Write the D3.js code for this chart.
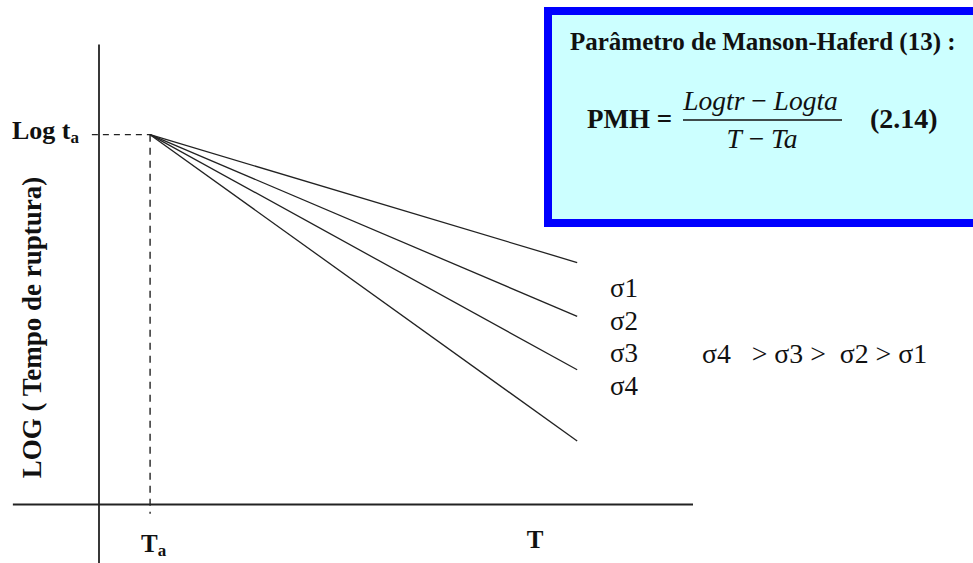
<!DOCTYPE html>
<html>
<head>
<meta charset="utf-8">
<script src="https://cdn.jsdelivr.net/npm/d3@7"></script>
<style>
  html, body { margin: 0; padding: 0; background: #fff; }
  svg text { font-family: "Liberation Serif", "DejaVu Serif", serif; }
</style>
</head>
<body>
<svg id="chart" width="973" height="563"></svg>
<script>
// Manson-Haferd construction: iso-stress lines converging at (Ta, log ta)
const series = ["σ1", "σ2", "σ3", "σ4"];
const Ta = 0.86;          // convergence temperature
const logTa = 8.04;       // log of rupture time at the convergence point
const Tend = 8.05;        // temperature where the drawn lines stop
const logTrEnd = [5.26, 4.09, 2.93, 1.38];   // log(tr) at Tend for σ1..σ4
const xLabels = ["Ta", "T"];
const xLabelPos = [0.92, 7.34];

const FONT = "'Liberation Serif', 'DejaVu Serif', serif";
const svg = d3.select("#chart");
const x = d3.scaleLinear().domain([0, 10]).range([99, 693]);
const y = d3.scaleLinear().domain([0, 10]).range([504.5, 44.5]);

const ink = "#222";

// axes: crossing lines
svg.append("line")
  .attr("x1", x(0)).attr("x2", x(0))
  .attr("y1", y(10)).attr("y2", y(-1.3))
  .attr("stroke", ink).attr("stroke-width", 1.8);
svg.append("line")
  .attr("x1", x(-1.45)).attr("x2", x(10))
  .attr("y1", y(0)).attr("y2", y(0))
  .attr("stroke", ink).attr("stroke-width", 1.8);

// dashed guides to the convergence point
svg.append("line")
  .attr("x1", x(-0.12)).attr("x2", x(Ta))
  .attr("y1", y(logTa)).attr("y2", y(logTa))
  .attr("stroke", ink).attr("stroke-width", 1.4)
  .attr("stroke-dasharray", "6,5");
svg.append("line")
  .attr("x1", x(Ta)).attr("x2", x(Ta))
  .attr("y1", y(logTa)).attr("y2", y(-0.2))
  .attr("stroke", ink).attr("stroke-width", 1.4)
  .attr("stroke-dasharray", "7,6");

// iso-stress lines
svg.selectAll("line.iso")
  .data(logTrEnd)
  .join("line")
  .attr("class", "iso")
  .attr("x1", x(Ta)).attr("y1", y(logTa))
  .attr("x2", x(Tend)).attr("y2", d => y(d))
  .attr("stroke", ink).attr("stroke-width", 1.3);

// series labels
svg.selectAll("text.sig")
  .data(series)
  .join("text")
  .attr("class", "sig")
  .attr("x", 610)
  .attr("y", (d, i) => 297 + i * 32.7)
  .attr("font-family", FONT)
  .attr("font-size", 27)
  .attr("fill", "#111")
  .text(d => d);

svg.append("text")
  .attr("x", 702).attr("y", 363)
  .attr("font-family", FONT)
  .attr("font-size", 27.8).attr("fill", "#111")
  .attr("xml:space", "preserve")
  .text("σ4   > σ3 >  σ2 > σ1");

// y label: Log ta
const logLab = svg.append("text")
  .attr("x", 12).attr("y", 139)
  .attr("font-family", FONT)
  .attr("font-size", 26).attr("font-weight", "bold").attr("fill", "#111");
logLab.append("tspan").text("Log t");
logLab.append("tspan").attr("font-size", 17).attr("dy", 4).text("a");

// x labels
const xl = svg.selectAll("text.xl")
  .data(xLabels)
  .join("text")
  .attr("class", "xl")
  .attr("x", (d, i) => x(xLabelPos[i]))
  .attr("y", (d, i) => i === 0 ? 552 : 548)
  .attr("text-anchor", "middle")
  .attr("font-family", FONT)
  .attr("font-size", 25).attr("font-weight", "bold").attr("fill", "#111");
xl.each(function(d) {
  const t = d3.select(this);
  t.append("tspan").text(d[0]);
  if (d.length > 1) t.append("tspan").attr("font-size", 17).attr("dy", 4).text(d.slice(1));
});

// axis title
svg.append("text")
  .attr("transform", "translate(41,327.5) rotate(-90)")
  .attr("text-anchor", "middle")
  .attr("font-family", FONT)
  .attr("font-size", 27).attr("font-weight", "bold").attr("fill", "#111")
  .text("LOG ( Tempo de ruptura)");

// formula box
svg.append("rect")
  .attr("x", 548).attr("y", 11)
  .attr("width", 440).attr("height", 212)
  .attr("fill", "#ccffff")
  .attr("stroke", "#0000ff").attr("stroke-width", 8);

svg.append("text")
  .attr("x", 570).attr("y", 50)
  .attr("font-family", FONT)
  .attr("font-size", 25).attr("font-weight", "bold").attr("fill", "#111")
  .text("Parâmetro de Manson-Haferd (13) :");

svg.append("text")
  .attr("x", 587).attr("y", 128)
  .attr("font-family", FONT)
  .attr("font-size", 27).attr("font-weight", "bold").attr("fill", "#111")
  .text("PMH =");

const num = svg.append("text")
  .attr("x", 760.5).attr("y", 110).attr("text-anchor", "middle")
  .attr("font-family", FONT)
  .attr("font-size", 27.5).attr("fill", "#111")
  .attr("xml:space", "preserve");
num.append("tspan").attr("font-style", "italic").text("Logtr");
num.append("tspan").text(" − ");
num.append("tspan").attr("font-style", "italic").text("Logta");

svg.append("line")
  .attr("x1", 683).attr("x2", 842)
  .attr("y1", 120).attr("y2", 120)
  .attr("stroke", "#111").attr("stroke-width", 1.3);

const den = svg.append("text")
  .attr("x", 762).attr("y", 148).attr("text-anchor", "middle")
  .attr("font-family", FONT)
  .attr("font-size", 27.5).attr("fill", "#111")
  .attr("xml:space", "preserve");
den.append("tspan").attr("font-style", "italic").text("T");
den.append("tspan").text(" − ");
den.append("tspan").attr("font-style", "italic").text("Ta");

svg.append("text")
  .attr("x", 870).attr("y", 128)
  .attr("font-family", FONT)
  .attr("font-size", 28).attr("font-weight", "bold").attr("fill", "#111")
  .text("(2.14)");
</script>
</body>
</html>
